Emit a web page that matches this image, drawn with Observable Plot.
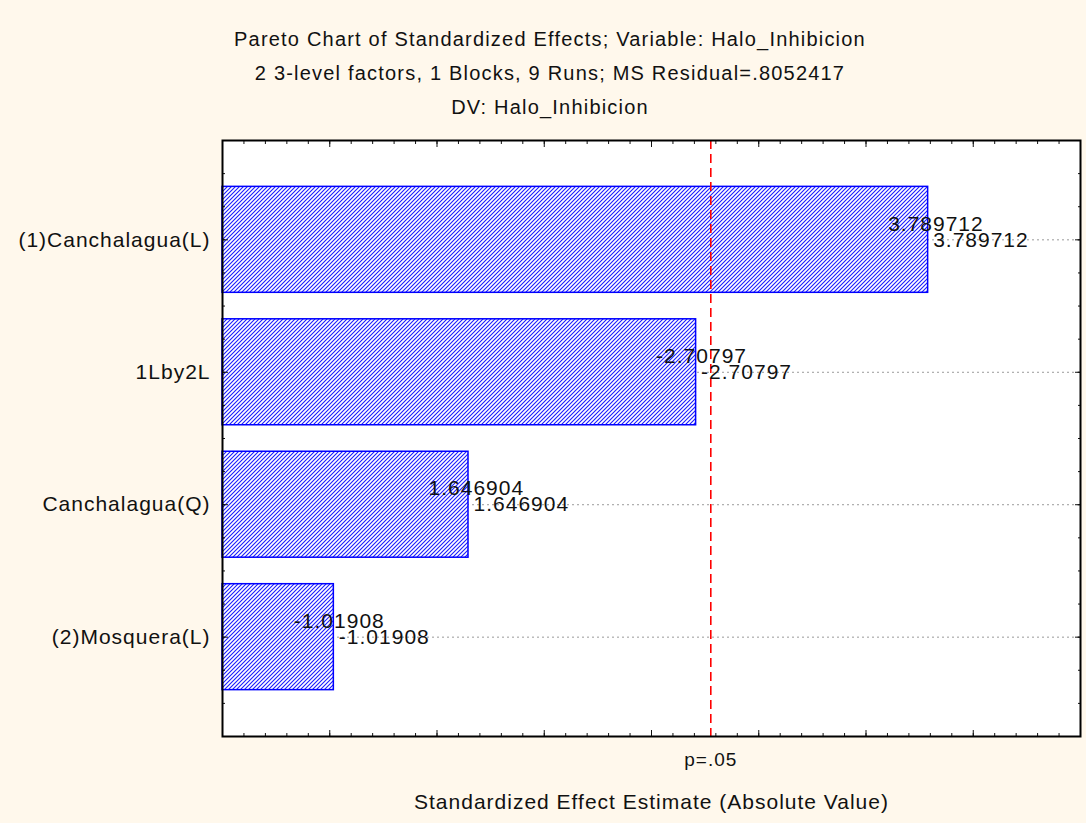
<!DOCTYPE html>
<html>
<head>
<meta charset="utf-8">
<script src="https://cdn.jsdelivr.net/npm/d3@7"></script>
<script src="https://cdn.jsdelivr.net/npm/@observablehq/plot@0.6"></script>
<style>
  html, body { margin: 0; padding: 0; background: #FFF8EC; }
  body { width: 1086px; height: 823px; overflow: hidden; font-family: "Liberation Sans", Arial, sans-serif; }
  #title { box-sizing: border-box; height: 126px; padding-top: 22px; padding-left: 14px; text-align: center;
           font-size: 20px; line-height: 34px; color: #111; letter-spacing: 1.2px; }
  #chart svg { display: block; background: transparent; }
  #chart svg text { letter-spacing: 1px; }
</style>
</head>
<body>
<svg width="0" height="0" style="position:absolute">
  <defs>
    <pattern id="hatch" patternUnits="userSpaceOnUse" width="4" height="4">
      <rect width="4" height="4" fill="white"></rect>
      <path d="M-1,1 l2,-2 M0,4 l4,-4 M3,5 l2,-2" stroke="#1a1aff" stroke-width="1.1"></path>
    </pattern>
  </defs>
</svg>
<div id="title">
  <div>Pareto Chart of Standardized Effects; Variable: Halo_Inhibicion</div>
  <div>2 3-level factors, 1 Blocks, 9 Runs; MS Residual=.8052417</div>
  <div>DV: Halo_Inhibicion</div>
</div>
<div id="chart"></div>
<script>
// ---- data ----
const factors = ["(1)Canchalagua(L)", "1Lby2L", "Canchalagua(Q)", "(2)Mosquera(L)"];
const effects = [3.789712, -2.70797, 1.646904, -1.01908];
const pCritical = 2.776445;          // t(0.975, df=4): p=.05 line
const pLabel = "p=.05";
const xLabel = "Standardized Effect Estimate (Absolute Value)";
const xDomain = [0.5, 4.5];

const rows = factors.map((f, i) => ({pos: i + 1, factor: f, effect: effects[i], abs: Math.abs(effects[i])}));

const xMajor = d3.range(0, 9).map(i => xDomain[0] + i * 0.5);
const xMinor = d3.range(0, 41).map(i => +(xDomain[0] + i * 0.1).toFixed(2));
const yDomain = [0.25, factors.length + 0.75];
const yMinor = d3.range(0, factors.length * 4 + 3).map(i => yDomain[0] + i * 0.25);
const yMajor = rows.map(r => r.pos);

const half = 0.4;
const font = '"Liberation Sans", Arial, sans-serif';
const ink = "#111";

const chart = Plot.plot({
  width: 1086,
  height: 697,
  marginTop: 14,
  marginBottom: 87,
  marginLeft: 222,
  marginRight: 6,
  style: {fontFamily: font, background: "transparent", color: ink},
  x: {domain: xDomain, axis: null},
  y: {domain: yDomain, reverse: true, axis: null},
  marks: [
    Plot.frame({fill: "white", stroke: null}),
    Plot.ruleY(yMajor, {y: d => d, stroke: "#9a9a9a", strokeDasharray: "2,3", strokeWidth: 1}),
    Plot.rect(rows, {x1: xDomain[0], x2: "abs", y1: d => d.pos - half, y2: d => d.pos + half,
                     fill: "url(#hatch)", stroke: "#0000ff", strokeWidth: 1.5}),
    Plot.ruleX([pCritical], {stroke: "#ff0000", strokeWidth: 1.6, strokeDasharray: "9,5"}),
    // value labels (drawn twice, as in the original)
    Plot.text(rows, {x: "abs", y: "pos", text: d => String(d.effect), textAnchor: "start",
                     dx: -40, dy: -16, fontSize: 21, fill: ink}),
    Plot.text(rows, {x: "abs", y: "pos", text: d => String(d.effect), textAnchor: "start",
                     dx: 5, dy: 0, fontSize: 21, fill: ink}),
    // inward ticks
    Plot.axisX({anchor: "bottom", ticks: xMinor, tickSize: 3, dy: -3, fill: "none", stroke: ink}),
    Plot.axisX({anchor: "bottom", ticks: xMajor, tickSize: 6, dy: -6, fill: "none", stroke: ink}),
    Plot.axisX({anchor: "top", ticks: xMinor, tickSize: 3, dy: 3, fill: "none", stroke: ink}),
    Plot.axisX({anchor: "top", ticks: xMajor, tickSize: 6, dy: 6, fill: "none", stroke: ink}),
    Plot.axisY({anchor: "left", ticks: yMinor, tickSize: 3, dx: 3, fill: "none", stroke: ink}),
    Plot.axisY({anchor: "left", ticks: yMajor, tickSize: 6, dx: 6, fill: "none", stroke: ink}),
    Plot.axisY({anchor: "right", ticks: yMinor, tickSize: 3, dx: -3, fill: "none", stroke: ink}),
    Plot.axisY({anchor: "right", ticks: yMajor, tickSize: 6, dx: -6, fill: "none", stroke: ink}),
    // category labels
    Plot.axisY({anchor: "left", ticks: yMajor, tickSize: 0, tickPadding: 12, label: null,
                tickFormat: p => factors[p - 1], fontSize: 21, fill: ink}),
    // p=.05 label
    Plot.axisX({anchor: "bottom", ticks: [pCritical], tickSize: 0, tickPadding: 16, label: null,
                tickFormat: () => pLabel, fontSize: 19, fill: ink}),
    // x axis title
    Plot.text([xLabel], {frameAnchor: "bottom", dy: 66, lineAnchor: "middle", fontSize: 21, fill: ink}),
    Plot.frame({stroke: "#000", strokeWidth: 2})
  ]
});
document.getElementById("chart").appendChild(chart);
</script>
</body>
</html>
